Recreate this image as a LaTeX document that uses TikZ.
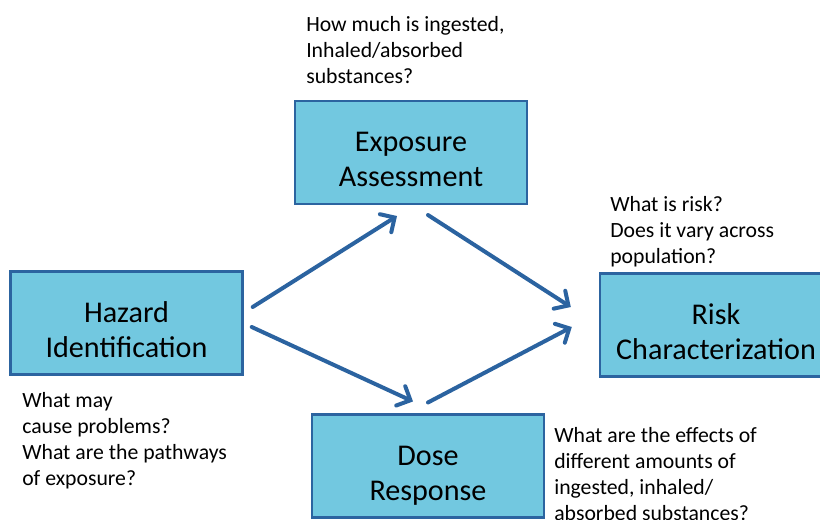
\documentclass[tikz,border=0pt]{standalone}
\usepackage{fontspec}
\setmainfont{Carlito}
\usetikzlibrary{positioning,arrows.meta,calc,shadows}
\definecolor{boxfill}{HTML}{72C8E0}
\definecolor{boxline}{HTML}{2C64A0}
\definecolor{arrblue}{HTML}{2B63A0}
% struts so the two lines sit a little low in the box
\newcommand\topstrut{\rule{0pt}{30pt}}
\newcommand\botstrut{\rule[-5pt]{0pt}{5pt}}

\begin{document}
\begin{tikzpicture}[
    x=0.75pt, y=-0.75pt,
    box/.style={draw=boxline, line width=1.8pt, fill=boxfill, minimum width=174pt, minimum height=77pt, inner sep=0pt, align=center, font=\fontsize{22.6}{26}\selectfont,
      drop shadow={opacity=0.25, shadow xshift=1pt, shadow yshift=-1pt}},
    note/.style={anchor=north west, inner sep=0pt, align=left, font=\fontsize{16.3}{19.5}\selectfont},
    arr/.style={-{Straight Barb[length=8pt, width=16pt, line cap=round]}, line width=3pt, arrblue, line cap=round}
  ]
    \useasboundingbox (0,0) rectangle (820,520);

    % the four stages
    \node[box] (expo) at (411,152.5) {\topstrut Exposure\\Assessment\botstrut};
    \node[box] (hazard) at (126.5,323) {\topstrut Hazard\\Identification\botstrut};
    \node[box] (risk) at (716,325) {\topstrut Risk\\Characterization\botstrut};
    \node[box] (dose) at (428,466) {\topstrut Dose\\Response\botstrut};

    % questions next to each stage
    \node[note] (qexpo) at (306,16) {How much is ingested,\\Inhaled/absorbed\\substances?};
    \node[note] (qrisk) at (610,196) {What is risk?\\Does it vary across\\population?};
    \node[note] (qhazard) at (22,392) {What may\\cause problems?\\What are the pathways\\of exposure?};
    \node[note] (qdose) at (554,427) {What are the effects of\\different amounts of\\ingested, inhaled/\\absorbed substances?};

    \draw[arr] ($(hazard.east)+(9,-16)$) -- ($(expo.south)+(-14,11)$);
    \draw[arr] ($(expo.south)+(17,10)$) -- ($(risk.west)+(-28,-18)$);
    \draw[arr] ($(hazard.east)+(8,4)$) -- ($(dose.north)+(-15,-12)$);
    \draw[arr] ($(dose.north)+(0,-11)$) -- ($(risk.west)+(-27,2)$);
  \end{tikzpicture}
\end{document}
